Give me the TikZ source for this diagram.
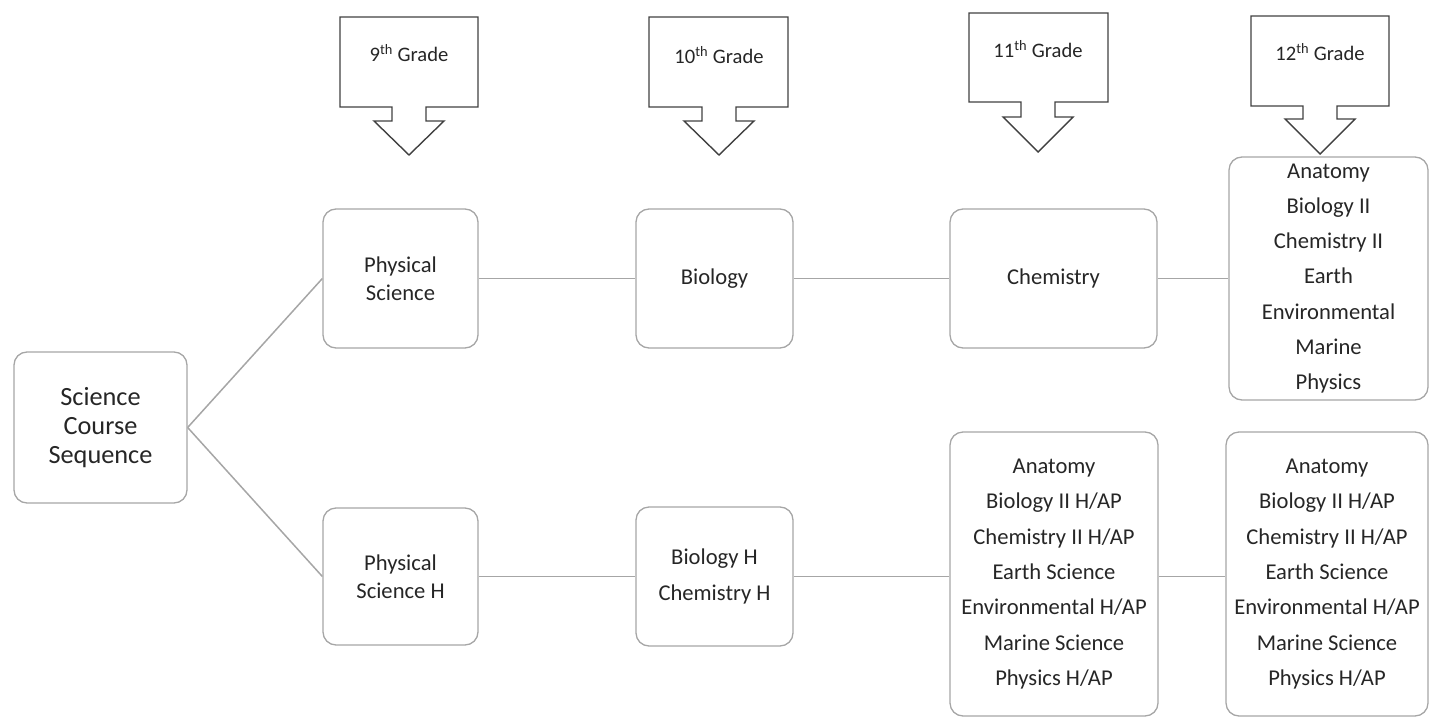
\documentclass[tikz,border=0pt]{standalone}
\usepackage{fontspec}
\setmainfont{Carlito}
\definecolor{boxgray}{RGB}{166,166,166}
\definecolor{txt}{RGB}{38,38,38}
\definecolor{callout}{RGB}{64,64,64}
\tikzset{
  box/.style={draw=boxgray, line width=1.3pt, rounded corners=13pt, inner sep=0pt,
    align=center, text=txt, font=\fontsize{22.6}{28}\selectfont},
  listbox/.style={box, font=\fontsize{22.6}{35.3}\selectfont},
  conn/.style={draw=boxgray, line width=1.5pt},
  callbox/.style={draw=callout, line width=1.4pt, line join=miter},
  gradetext/.style={text=txt, font=\fontsize{20.6}{24}\selectfont, inner sep=0pt}
}
\newcommand\gradeCallout[7]{% L R T B C SB tipy
  \draw[callbox] (#1,#3) -- (#2,#3) -- (#2,#4) -- ({#5+17},#4) -- ({#5+17},#6)
    -- ({#5+35},#6) -- (#5,#7) -- ({#5-35},#6) -- ({#5-17},#6) -- ({#5-17},#4)
    -- (#1,#4) -- cycle;}
\begin{document}
\begin{tikzpicture}[x=1pt,y=-1pt]
\useasboundingbox (0,0) rectangle (1429,717);

% grade callouts
\gradeCallout{340}{478}{17}{107}{409}{121}{155}
\gradeCallout{649}{788}{17}{107}{719}{121}{155}
\gradeCallout{969}{1108}{13}{102}{1038}{117}{152}
\gradeCallout{1251}{1389}{16}{106}{1320}{119}{154}
\node[gradetext] (g9) at (409,53) {9\textsuperscript{th} Grade};
\node[gradetext] (g10) at (719,55) {10\textsuperscript{th} Grade};
\node[gradetext] (g11) at (1038,49) {11\textsuperscript{th} Grade};
\node[gradetext] (g12) at (1320,52) {12\textsuperscript{th} Grade};

% boxes
\node[box, minimum width=173, minimum height=151, font=\fontsize{26.3}{29.3}\selectfont]
  (sci) at (100.5,427.5) {Science\\Course\\Sequence};
\node[box, minimum width=155, minimum height=139] (ps) at (400.5,278.5) {Physical\\Science};
\node[box, minimum width=157, minimum height=139] (bio) at (714.5,278.5) {Biology};
\node[box, minimum width=207, minimum height=139] (chem) at (1053.5,278.5) {Chemistry};
\node[listbox, minimum width=199, minimum height=243] (top12) at (1328.5,278.5)
  {Anatomy\\Biology II\\Chemistry II\\Earth\\Environmental\\Marine\\Physics};
\node[box, minimum width=155, minimum height=137] (psh) at (400.5,576.5) {Physical\\Science H};
\node[listbox, minimum width=157, minimum height=139] (bioh) at (714.5,576.5) {Biology H\\Chemistry H};
\node[listbox, minimum width=208, minimum height=284] (bot11) at (1054,574)
  {Anatomy\\Biology II H/AP\\Chemistry II H/AP\\Earth Science\\Environmental H/AP\\Marine Science\\Physics H/AP};
\node[listbox, minimum width=202, minimum height=284] (bot12) at (1327,574)
  {Anatomy\\Biology II H/AP\\Chemistry II H/AP\\Earth Science\\Environmental H/AP\\Marine Science\\Physics H/AP};

% connectors
\draw[conn] (sci.east) -- (ps.west);
\draw[conn] (sci.east) -- (psh.west);
\draw[conn] (ps.east) -- (bio.west);
\draw[conn] (bio.east) -- (chem.west);
\draw[conn] (chem.east) -- (top12.west);
\draw[conn] (psh.east) -- (bioh.west);
\draw[conn] (bioh.east) -- (bioh.east -| bot11.west);
\draw[conn] (bioh.east -| bot11.east) -- (bioh.east -| bot12.west);
\end{tikzpicture}
\end{document}
